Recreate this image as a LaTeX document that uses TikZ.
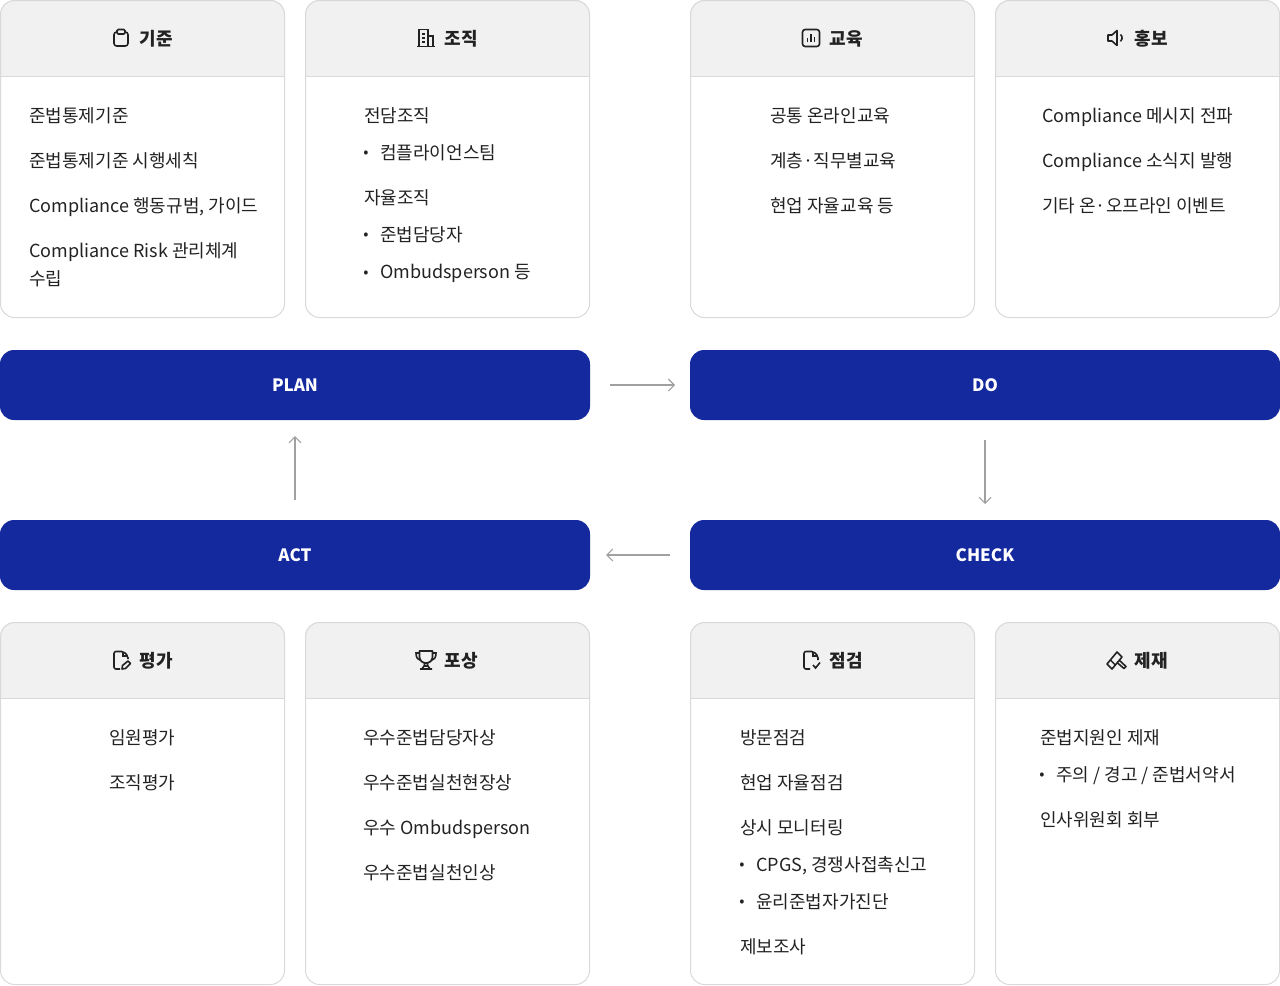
\documentclass[tikz,border=0pt]{standalone}
\usepackage{fontspec}
\setmainfont{Noto Sans CJK KR}
\usetikzlibrary{arrows.meta}
\definecolor{navy}{RGB}{20,41,158}
\definecolor{ink}{RGB}{34,34,34}
\definecolor{rim}{RGB}{217,217,217}
\definecolor{head}{RGB}{241,241,241}
\definecolor{pointer}{RGB}{160,160,160}
\tikzset{
  >={Straight Barb[length=4.5pt,width=9pt]},
  card/.style={draw=rim,line width=0.75pt,rounded corners=10.5pt,minimum width=213pt,outer sep=0pt,anchor=north west},
  bar/.style={fill=navy,text=white,rounded corners=10.5pt,minimum width=442.5pt,minimum height=52.5pt,
    font=\fontsize{12.75pt}{16pt}\selectfont\bfseries,text height=10pt,text depth=0pt,outer sep=0pt},
  title/.style={text=ink,font=\fontsize{13.5pt}{16pt}\selectfont\bfseries,anchor=base,inner sep=0pt},
  entry/.style={text=ink,font=\fontsize{13.5pt}{16pt}\selectfont,anchor=base west,inner sep=0pt},
  dot/.style={text=ink,font=\fontsize{11.5pt}{12pt}\selectfont,anchor=base,inner sep=0pt},
  flow/.style={->,draw=pointer,line width=0.8pt},
  % pictograms
  pics/clip/.style={code={
    \draw[ink,line width=1.2pt,rounded corners=2pt] (-4,-6) -- (-7,-6) -- (-7,8) -- (7,8) -- (7,-6) -- (4,-6);
    \draw[ink,line width=1.2pt,rounded corners=1pt] (-4,-8.5) rectangle (4,-4);
  }},
  pics/tower/.style={code={
    \draw[ink,line width=1.2pt] (-9,8.5) -- (9,8.5) (-7,8.5) -- (-7,-8.5) -- (2,-8.5) -- (2,8.5) (2,-2) -- (7,-2) -- (7,8.5);
    \foreach \y in {-4,0,4} \draw[ink,line width=1pt] (-4,\y) -- (-1,\y);
  }},
  pics/chart/.style={code={
    \draw[ink,line width=1.2pt,rounded corners=2pt] (-8.5,-8.5) rectangle (8.5,8.5);
    \draw[ink,line width=1.2pt] (-3.5,4) -- (-3.5,0) (0,4) -- (0,-4) (3.5,4) -- (3.5,-1.5);
  }},
  pics/horn/.style={code={
    \draw[ink,line width=1.2pt,line join=round] (-8,-3) -- (-4,-3) -- (1,-7.5) -- (1,7.5) -- (-4,3) -- (-8,3) -- cycle;
    \draw[ink,line width=1.2pt] (4.5,-3.5) arc (-50:50:4.5);
  }},
  pics/docpen/.style={code={
    \draw[ink,line width=1.2pt,rounded corners=1.5pt] (-1,9) -- (-7,9) -- (-7,-8.5) -- (2.5,-8.5) -- (7,-4) -- (7,-1);
    \draw[ink,line width=1pt] (2,-8.5) -- (2,-4) -- (7,-4);
    \draw[ink,line width=1.2pt,line join=round] (1,9) -- (1.5,5.5) -- (7,1) -- (9.5,3.5) -- (4.5,8.5) -- cycle;
  }},
  pics/doccheck/.style={code={
    \draw[ink,line width=1.2pt,rounded corners=1.5pt] (-1,9) -- (-7,9) -- (-7,-8.5) -- (2.5,-8.5) -- (7,-4) -- (7,0);
    \draw[ink,line width=1pt] (2,-8.5) -- (2,-4) -- (7,-4);
    \draw[ink,line width=1.2pt] (2,5) -- (4.5,8) -- (9,2.5);
  }},
  pics/cup/.style={code={
    \draw[ink,line width=1.3pt,line join=round] (-6.5,-9) -- (6.5,-9) -- (6.5,-3) .. controls (6.5,1) and (3,3) .. (0,3) .. controls (-3,3) and (-6.5,1) .. (-6.5,-3) -- cycle;
    \draw[ink,line width=1.2pt] (-6.5,-7) -- (-10,-7) .. controls (-10,-2) and (-8,0) .. (-5,0.5);
    \draw[ink,line width=1.2pt] (6.5,-7) -- (10,-7) .. controls (10,-2) and (8,0) .. (5,0.5);
    \draw[ink,line width=1.2pt] (-1.5,3) -- (-1.5,6) (1.5,3) -- (1.5,6) (-4,9) -- (-2,6) -- (2,6) -- (4,9) (-6,9) -- (6,9);
  }},
  pics/gavel/.style={code={
    \draw[ink,line width=1.2pt,line join=round] (-9,4) -- (1,-8) -- (6,-3) -- (-4,9) -- cycle;
    \draw[ink,line width=1pt] (-5.7,0) -- (-0.7,5);
    \draw[ink,line width=1.2pt,line join=round] (3,0) -- (10,6.5) -- (8,8.5) -- (1,2.5);
  }},
}
\newcommand{\comma}{,}
\newcommand{\oblique}{/}

\begin{document}
\begin{tikzpicture}[x=0.75pt,y=-0.75pt]
    \useasboundingbox (0,0) rectangle (1280,985);
    % cards
    \foreach \x/\top/\hh/\ht/\t/\ic [count=\i] in {
      0/0/318/76/기준/clip, 305/0/318/76/조직/tower, 690/0/318/76/교육/chart, 995/0/318/76/홍보/horn,
      0/622/363/76/평가/docpen, 305/622/363/76/포상/cup, 690/622/363/76/점검/doccheck, 995/622/363/76/제재/gavel}
    {
      \fill[head] (\x,\top+\ht) [rounded corners=10.5pt] -- (\x,\top) -- (\x+285,\top) [sharp corners] -- (\x+285,\top+\ht) -- cycle;
      \node[card,minimum height=\hh*0.75pt-0.75pt] (c\i) at (\x+0.5,\top+0.5) {};
      \draw[rim,line width=0.75pt] (\x,\top+\ht+0.5) -- (\x+285,\top+\ht+0.5);
      \node[title] (h\i) at (\x+156,\top+45) {\t};
      \pic at (\x+121,\top+38) {\ic};
    }
    % lines of text
    \foreach \x/\y/\t [count=\i] in {
      29/122/준법통제기준, 29/167/준법통제기준 시행세칙, 29/212/Compliance 행동규범\comma{} 가이드, 29/257/Compliance Risk 관리체계, 29/285/수립,
      364/122/전담조직, 380/159/컴플라이언스팀, 364/204/자율조직, 380/241/준법담당자, 380/278/Ombudsperson 등,
      770/122/공통 온라인교육, 770/167/계층·직무별교육, 770/212/현업 자율교육 등,
      1042/122/Compliance 메시지 전파, 1042/167/Compliance 소식지 발행, 1042/212/기타 온·오프라인 이벤트,
      109/744/임원평가, 109/789/조직평가,
      363/744/우수준법담당자상, 363/789/우수준법실천현장상, 363/834/우수 Ombudsperson, 363/879/우수준법실천인상,
      740/744/방문점검, 740/789/현업 자율점검, 740/834/상시 모니터링, 756/871/CPGS\comma{} 경쟁사접촉신고, 756/908/윤리준법자가진단, 740/953/제보조사,
      1040/744/준법지원인 제재, 1056/781/주의 \oblique{} 경고 \oblique{} 준법서약서, 1040/826/인사위원회 회부}
    {
      \node[entry] (l\i) at (\x,\y) {\t};
    }
    % bullets
    \foreach \x/\y [count=\i] in {366/157, 366/239, 366/277, 742/869, 742/906, 1042/779}
    {
      \node[dot] (b\i) at (\x,\y) {•};
    }
    % bars
    \node[bar] (plan) at (295,385) {PLAN};
    \node[bar] (do) at (985,385) {DO};
    \node[bar] (act) at (295,555) {ACT};
    \node[bar] (check) at (985,555) {CHECK};
    \draw[flow,shorten <=15pt,shorten >=11.25pt] (plan) -- (do);
    \draw[flow,shorten <=15pt,shorten >=12pt] (do) -- (check);
    \draw[flow,shorten <=15pt,shorten >=12pt] (check) -- (act);
    \draw[flow,shorten <=15pt,shorten >=12pt] (act) -- (plan);
\end{tikzpicture}
\end{document}
